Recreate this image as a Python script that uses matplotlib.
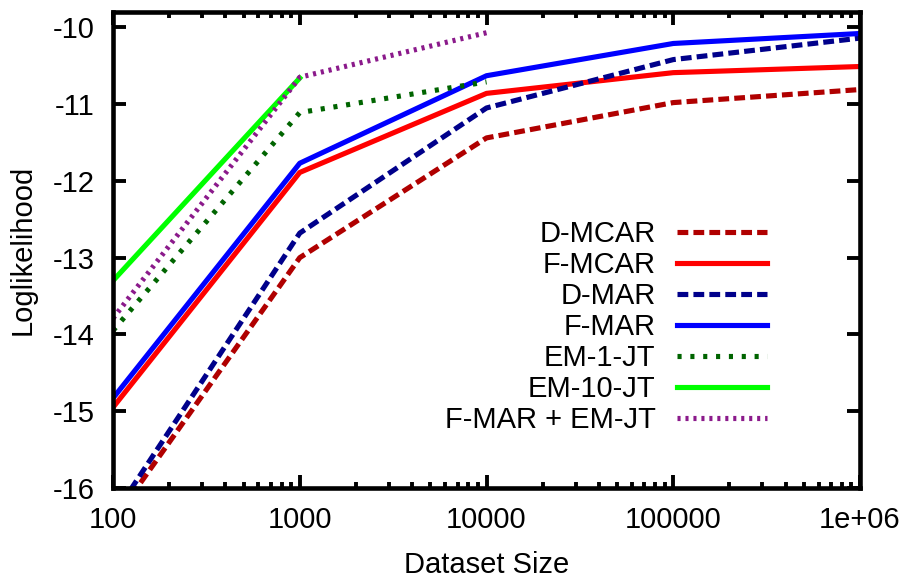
import matplotlib
matplotlib.use("Agg")
import matplotlib.pyplot as plt
from matplotlib.ticker import FixedLocator, FixedFormatter, NullFormatter

plt.rcParams["font.family"] = ["Liberation Sans", "DejaVu Sans"]

# dataset sizes and mean test loglikelihood per method
sizes = [100, 1000, 10000, 100000, 1000000]
d_mcar = [-16.44, -13.00, -11.44, -10.98, -10.81]
f_mcar = [-14.95, -11.89, -10.86, -10.59, -10.51]
d_mar = [-16.37, -12.68, -11.05, -10.42, -10.14]
f_mar = [-14.83, -11.77, -10.63, -10.21, -10.08]

em1_sizes = [100, 1000, 10000]
em1_jt = [-13.95, -11.11, -10.71]
em10_sizes = [100, 1000]
em10_jt = [-13.30, -10.66]
fmar_em_sizes = [100, 1000, 10000]
fmar_em_jt = [-13.79, -10.65, -10.07]

xtick_labels = ["100", "1000", "10000", "100000", "1e+06"]
yticks = [-16, -15, -14, -13, -12, -11, -10]

fig = plt.figure(figsize=(9.1, 5.79), dpi=100)
ax = fig.add_axes([113 / 910, 1 - 488 / 579, 747 / 910, 476 / 579])

lw = 3.7
ax.plot(sizes, d_mcar, color="#b00000", lw=lw, dashes=(2.1, 1.0), label="D-MCAR")
ax.plot(sizes, f_mcar, color="#ff0000", lw=lw, label="F-MCAR")
ax.plot(sizes, d_mar, color="#00008b", lw=lw, dashes=(2.1, 1.0), label="D-MAR")
ax.plot(sizes, f_mar, color="#0000ff", lw=lw, label="F-MAR")
ax.plot(em1_sizes, em1_jt, color="#006400", lw=lw, dashes=(0.8, 1.7), label="EM-1-JT")
ax.plot(em10_sizes, em10_jt, color="#00ff00", lw=lw, label="EM-10-JT")
ax.plot(fmar_em_sizes, fmar_em_jt, color="#8b1a8b", lw=lw, dashes=(0.6, 0.95),
        label="F-MAR + EM-JT")

ax.set_xscale("log")
ax.set_xlim(100, 1e6)
ax.set_ylim(-16, -9.8)

ax.xaxis.set_major_locator(FixedLocator(sizes))
ax.xaxis.set_major_formatter(FixedFormatter(xtick_labels))
ax.xaxis.set_minor_locator(FixedLocator(
    [m * 10 ** e for e in range(2, 6) for m in range(2, 10)]))
ax.xaxis.set_minor_formatter(NullFormatter())
ax.set_yticks(yticks)
ax.set_yticklabels([str(v) for v in yticks])

for s in ax.spines.values():
    s.set_linewidth(3.3)
ax.tick_params(which="major", direction="in", length=9.5, width=2.8,
               top=True, right=True, labelsize=21, pad=13)
ax.tick_params(which="minor", direction="in", length=4.5, width=2.8,
               top=True, right=True)

ax.set_xlabel("Dataset Size", fontsize=21, labelpad=12)
ax.set_ylabel("Loglikelihood", fontsize=21, labelpad=12)

ax.legend(loc="upper right", bbox_to_anchor=(0.8755, 0.562), frameon=False,
          markerfirst=False, fontsize=21, handlelength=3.1, handletextpad=0.72,
          labelspacing=0.1, borderpad=0, borderaxespad=0)

fig.savefig("out.png", dpi=100)
